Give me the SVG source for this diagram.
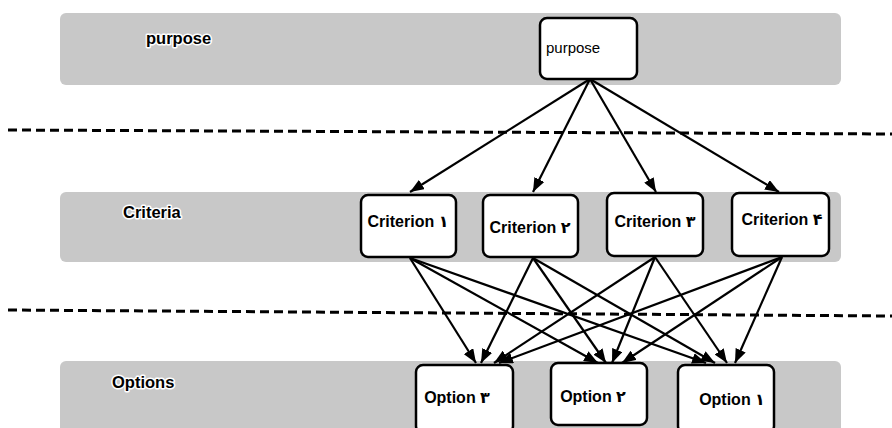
<svg xmlns="http://www.w3.org/2000/svg" width="892" height="428" viewBox="0 0 892 428">
<defs>
<marker id="ah" viewBox="0 0 14 11" refX="14" refY="5.5" markerWidth="14" markerHeight="11" markerUnits="userSpaceOnUse" orient="auto">
<path d="M0,0 L14,5.5 L0,11 Z" fill="#000"/>
</marker>
<style>
.band{fill:#c8c8c8;}
.box{fill:#fff;stroke:#000;stroke-width:2.5;}
.dash{stroke:#000;stroke-width:3;stroke-dasharray:9 5;fill:none;}
.edge{stroke:#000;stroke-width:2.2;fill:none;marker-end:url(#ah);}
.lbl{font-family:"Liberation Sans","DejaVu Sans",sans-serif;font-weight:bold;font-size:16.5px;fill:#000;stroke:#fff;stroke-width:3;paint-order:stroke;stroke-linejoin:round;}
.t{font-family:"Liberation Sans","DejaVu Sans",sans-serif;font-weight:bold;font-size:16px;fill:#000;text-anchor:middle;}
.tp{font-family:"Liberation Sans","DejaVu Sans",sans-serif;font-size:15px;fill:#000;}
</style>
</defs>
<rect width="892" height="428" fill="#fff"/>
<g id="bands">
<rect class="band" x="60" y="13" width="781" height="72" rx="6"/>
<rect class="band" x="60" y="192" width="781" height="70" rx="6"/>
<rect class="band" x="60" y="361" width="781" height="80" rx="6"/>
</g>
<g id="separators">
<line class="dash" x1="8" y1="130" x2="892" y2="134"/>
<line class="dash" x1="8" y1="310" x2="892" y2="316"/>
</g>
<g id="labels">
<text class="lbl" x="146" y="44">purpose</text>
<text class="lbl" x="123" y="218">Criteria</text>
<text class="lbl" x="112" y="388">Options</text>
</g>
<g id="connectors">
<line class="edge" x1="590" y1="79" x2="410" y2="192"/>
<line class="edge" x1="590" y1="79" x2="533" y2="192"/>
<line class="edge" x1="590" y1="79" x2="656" y2="192"/>
<line class="edge" x1="590" y1="79" x2="779" y2="192"/>
<line class="edge" x1="410" y1="258" x2="476" y2="363"/>
<line class="edge" x1="410" y1="258" x2="598" y2="363"/>
<line class="edge" x1="410" y1="258" x2="706" y2="363"/>
<line class="edge" x1="533" y1="258" x2="481" y2="363"/>
<line class="edge" x1="533" y1="258" x2="606" y2="363"/>
<line class="edge" x1="533" y1="258" x2="715" y2="363"/>
<line class="edge" x1="655" y1="257" x2="494" y2="363"/>
<line class="edge" x1="655" y1="257" x2="612" y2="363"/>
<line class="edge" x1="655" y1="257" x2="727" y2="363"/>
<line class="edge" x1="782" y1="257" x2="499" y2="363"/>
<line class="edge" x1="782" y1="257" x2="622" y2="363"/>
<line class="edge" x1="782" y1="257" x2="735" y2="363"/>
</g>
<g id="purpose">
<rect class="box" x="540" y="18" width="97" height="61" rx="7"/>
<text class="tp" x="546" y="53">purpose</text>
</g>
<g id="criterion1">
<rect class="box" x="361" y="195" width="95" height="62" rx="7"/>
<text class="t" x="408" y="227">Criterion ۱</text>
</g>
<g id="criterion2">
<rect class="box" x="483" y="195" width="95" height="62" rx="7"/>
<text class="t" x="530" y="233">Criterion ۲</text>
</g>
<g id="criterion3">
<rect class="box" x="607" y="193" width="96" height="63" rx="7"/>
<text class="t" x="655" y="227">Criterion ۳</text>
</g>
<g id="criterion4">
<rect class="box" x="732" y="193" width="97" height="63" rx="7"/>
<text class="t" x="782" y="225">Criterion ۴</text>
</g>
<g id="option3">
<rect class="box" x="416" y="365" width="97" height="68" rx="7"/>
<text class="t" x="457" y="403">Option ۳</text>
</g>
<g id="option2">
<rect class="box" x="551" y="363" width="96" height="62" rx="7"/>
<text class="t" x="593" y="402">Option ۲</text>
</g>
<g id="option1">
<rect class="box" x="678" y="365" width="96" height="68" rx="7"/>
<text class="t" x="732" y="405">Option ۱</text>
</g>
</svg>
